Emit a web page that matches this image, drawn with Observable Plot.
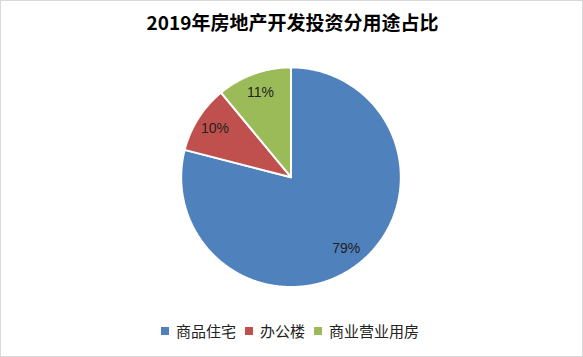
<!DOCTYPE html>
<html>
<head>
<meta charset="utf-8">
<script src="https://cdn.jsdelivr.net/npm/d3@7"></script>
<script src="https://cdn.jsdelivr.net/npm/@observablehq/plot@0.6"></script>
<style>
  html, body { margin: 0; padding: 0; background: #fff; }
  #wrap { position: relative; width: 581px; height: 355px; border: 1px solid #d9d9d9; overflow: hidden; background: #fff; }
  #title { position: absolute; left: 0; top: 8px; width: 583px; text-align: center; font: bold 19px "Noto Sans CJK SC", sans-serif; color: #000; line-height: 26px; }
  #legend { position: absolute; top: 320px; left: 160px; display: flex; align-items: center; font: 15px "Noto Sans CJK SC", sans-serif; color: #222; line-height: 20px; }
  #legend .item { display: flex; align-items: center; margin-right: 9px; }
  #legend .sw { width: 8px; height: 8px; margin-right: 7px; }
  #chart { position: absolute; left: -1px; top: -1px; }
</style>
</head>
<body>
<div id="wrap">
  <div id="chart"></div>
  <div id="title"></div>
  <div id="legend"></div>
</div>
<script>
const titleText = "2019年房地产开发投资分用途占比";
const categories = ["商品住宅", "办公楼", "商业营业用房"];
const values = [79, 10, 11];
const labels = ["79%", "10%", "11%"];
const colors = ["#4F81BD", "#C0504D", "#9BBB59"];

document.getElementById("title").textContent = titleText;

const W = 583, H = 357, cx = 291, cy = 177, R = 110;
const total = d3.sum(values);

// build slice polygons (in unit-circle data coords), clockwise from 12 o'clock
const polys = [];
const labelPts = [];
let start = 0;
values.forEach((v, i) => {
  const a0 = start / total * 2 * Math.PI;
  const a1 = (start + v) / total * 2 * Math.PI;
  polys.push({cat: categories[i], x: 0, y: 0});
  const n = Math.max(2, Math.ceil((a1 - a0) / (Math.PI / 360)));
  for (let k = 0; k <= n; k++) {
    const a = a0 + (a1 - a0) * k / n;
    polys.push({cat: categories[i], x: Math.sin(a), y: Math.cos(a)});
  }
  polys.push({cat: categories[i], x: 0, y: 0});
  const am = (a0 + a1) / 2;
  const rr = 0.82;
  labelPts.push({cat: categories[i], label: labels[i], x: rr * Math.sin(am), y: rr * Math.cos(am)});
  start += v;
});

const plot = Plot.plot({
  width: W,
  height: H,
  margin: 0,
  x: {domain: [-cx / R, (W - cx) / R], axis: null},
  y: {domain: [-(H - cy) / R, cy / R], axis: null},
  color: {domain: categories, range: colors},
  marks: [
    Plot.line(polys, {x: "x", y: "y", z: "cat", fill: "cat", stroke: "white", strokeWidth: 2, strokeLinejoin: "miter", curve: "linear"}),
    Plot.text(labelPts, {x: "x", y: "y", text: "label", fontSize: 14, fill: "#222", fontFamily: "Liberation Sans, sans-serif"})
  ],
  style: {background: "transparent", overflow: "visible"}
});
document.getElementById("chart").appendChild(plot);

const legend = document.getElementById("legend");
categories.forEach((c, i) => {
  const item = document.createElement("div");
  item.className = "item";
  const sw = document.createElement("div");
  sw.className = "sw";
  sw.style.background = colors[i];
  const t = document.createElement("span");
  t.textContent = c;
  item.appendChild(sw);
  item.appendChild(t);
  legend.appendChild(item);
});
</script>
</body>
</html>
